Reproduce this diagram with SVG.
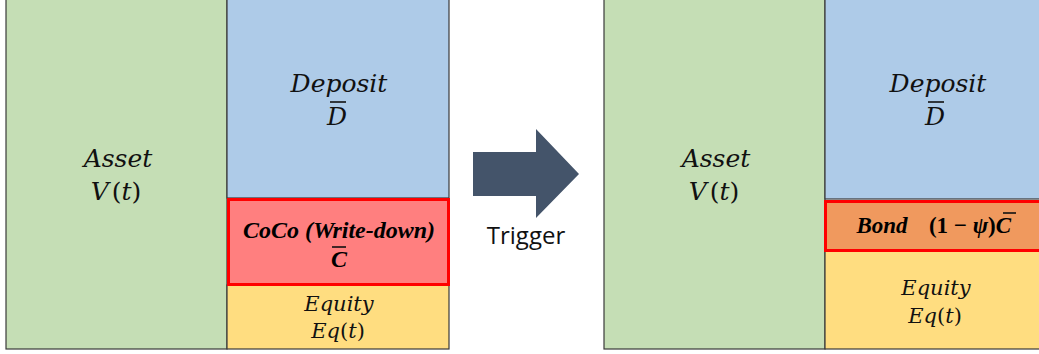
<svg xmlns="http://www.w3.org/2000/svg" width="1039" height="354" viewBox="0 0 1039 354">
<style>
.box{stroke:#3a3a3a;stroke-width:1.2}
.hl{stroke:#ff0000;stroke-width:3}
.m{font-family:"DejaVu Serif",serif;font-style:italic;fill:#111;text-anchor:middle}
.mb{font-family:"Liberation Serif",serif;font-style:italic;font-weight:bold;fill:#000;text-anchor:middle}
.up{font-style:normal}
.bar{stroke:#111;stroke-width:1.6}
</style>
<rect width="1039" height="354" fill="#ffffff"/>
<g id="left-asset">
<rect class="box" x="6" y="-2" width="221" height="351" fill="#C5DEB5"/>
<text class="m" x="118" y="167" font-size="25">Asset</text>
<text class="m" x="116" y="200" font-size="25">V<tspan class="up" dx="3">(</tspan>t<tspan class="up">)</tspan></text>
</g>
<g id="left-deposit">
<rect class="box" x="227" y="-2" width="222" height="200" fill="#AECBE8"/>
<text class="m" x="339" y="92" font-size="25">Deposit</text>
<text class="m" x="337" y="125" font-size="25">D</text>
<line class="bar" x1="330" y1="102" x2="346" y2="102"/>
</g>
<g id="left-equity">
<rect class="box" x="227" y="285" width="222" height="64" fill="#FFDD80"/>
<text class="m" x="339" y="311" font-size="21">Equity</text>
<text class="m" x="338" y="338" font-size="21">E<tspan>q</tspan><tspan class="up">(</tspan>t<tspan class="up">)</tspan></text>
</g>
<g id="left-coco">
<rect class="hl" x="228.5" y="199.5" width="220" height="85" fill="#FF7F7F"/>
<text class="mb" x="339" y="238" font-size="24">CoCo (Write-down)</text>
<text class="mb" x="339" y="267" font-size="24">C</text>
<line class="bar" x1="332" y1="247" x2="346" y2="247"/>
</g>
<g id="trigger">
<polygon points="473,152 536,152 536,129 579,174 536,218 536,196 473,196" fill="#44546A"/>
<text x="526" y="244" font-family="Open Sans, Liberation Sans, sans-serif" font-size="24" fill="#111" text-anchor="middle">Trigger</text>
</g>
<g id="right-asset">
<rect class="box" x="604" y="-2" width="221" height="351" fill="#C5DEB5"/>
<text class="m" x="716" y="167" font-size="25">Asset</text>
<text class="m" x="714" y="200" font-size="25">V<tspan class="up" dx="3">(</tspan>t<tspan class="up">)</tspan></text>
</g>
<g id="right-deposit">
<rect class="box" x="825" y="-2" width="220" height="201" fill="#AECBE8"/>
<text class="m" x="938" y="92" font-size="25">Deposit</text>
<text class="m" x="935" y="125" font-size="25">D</text>
<line class="bar" x1="928" y1="102" x2="944" y2="102"/>
</g>
<g id="right-equity">
<rect class="box" x="825" y="251" width="220" height="98" fill="#FFDD80"/>
<text class="m" x="936" y="295" font-size="21">Equity</text>
<text class="m" x="935" y="323" font-size="21">E<tspan>q</tspan><tspan class="up">(</tspan>t<tspan class="up">)</tspan></text>
</g>
<g id="right-bond">
<rect class="hl" x="825.5" y="201.5" width="220" height="49" fill="#F0995E"/>
<text class="mb" x="882" y="233" font-size="23">Bond</text>
<text class="mb" x="970" y="233" font-size="23"><tspan class="up">(1 − </tspan>ψ<tspan class="up">)</tspan>C</text>
<line class="bar" x1="1003" y1="213" x2="1016" y2="213"/>
</g>
</svg>
